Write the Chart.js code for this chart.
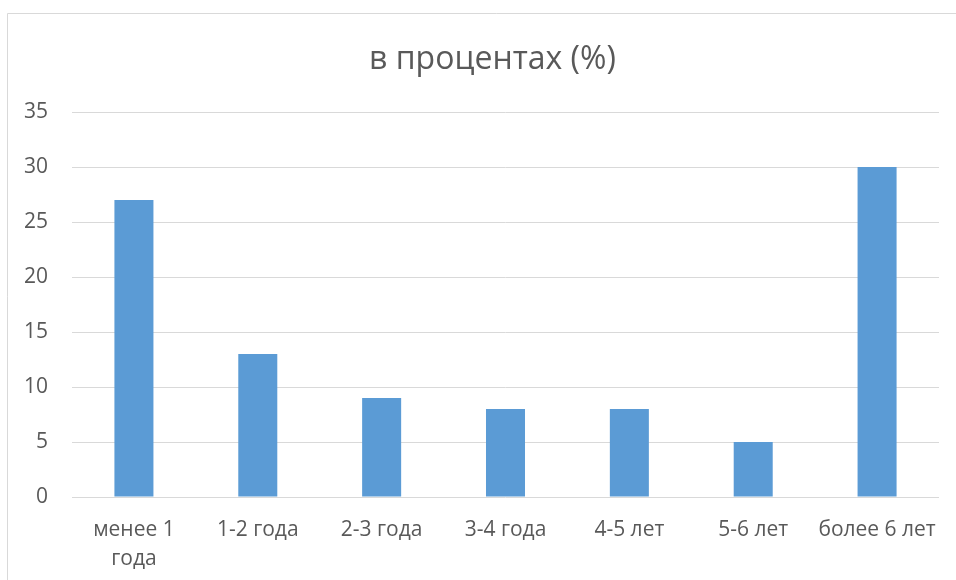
<!DOCTYPE html>
<html>
<head>
<meta charset="utf-8">
<script src="https://cdn.jsdelivr.net/npm/chart.js@4"></script>
<style>
  html, body { margin: 0; padding: 0; background: #fff; overflow: hidden; }
  #wrap { position: relative; width: 956px; height: 580px; overflow: hidden; }
  #c { position: absolute; left: 0; top: 0; }
</style>
</head>
<body>
<div id="wrap"><canvas id="c" width="985" height="580"></canvas></div>
<script>
// Share of respondents by length of service, in percent
const categories = [["менее 1", "года"], "1-2 года", "2-3 года", "3-4 года", "4-5 лет", "5-6 лет", "более 6 лет"];
const percentValues = [27, 13, 9, 8, 8, 5, 30];
const yTicks = [0, 5, 10, 15, 20, 25, 30, 35];
const chartTitle = "в процентах (%)";

const textColor = "#595959";
const gridColor = "#d9d9d9";
const barColor = "#5b9bd5";
const fontFamily = "'Open Sans', 'Noto Sans', sans-serif";

// Thin frame along the top and left edges of the chart box
const framePlugin = {
  id: "frame",
  beforeDraw(chart) {
    const ctx = chart.ctx;
    ctx.save();
    ctx.fillStyle = "#ffffff";
    ctx.fillRect(0, 0, chart.width, chart.height);
    ctx.strokeStyle = gridColor;
    ctx.lineWidth = 1;
    ctx.beginPath();
    ctx.moveTo(7.5, chart.height);
    ctx.lineTo(7.5, 13.5);
    ctx.lineTo(chart.width, 13.5);
    ctx.stroke();
    ctx.restore();
  }
};

new Chart(document.getElementById("c"), {
  type: "bar",
  data: {
    labels: categories,
    datasets: [{
      data: percentValues,
      backgroundColor: barColor,
      borderWidth: 0,
      categoryPercentage: 1,
      barPercentage: 0.315
    }]
  },
  options: {
    responsive: false,
    animation: false,
    layout: { padding: { left: 0, right: 0, top: 0, bottom: 0 } },
    plugins: {
      legend: { display: false },
      tooltip: { enabled: false },
      title: {
        display: true,
        text: chartTitle,
        color: textColor,
        font: { family: fontFamily, size: 32, weight: "normal", lineHeight: 1.2 },
        padding: { top: 41, bottom: 32.6 }
      }
    },
    scales: {
      x: {
        grid: { display: false, drawTicks: false },
        border: { display: false },
        ticks: {
          color: textColor,
          font: { family: fontFamily, size: 21, lineHeight: 1.4 },
          padding: 18,
          maxRotation: 0,
          autoSkip: false
        },
        afterFit(scale) { scale.height = 83; }
      },
      y: {
        min: 0,
        max: 35,
        afterBuildTicks(scale) { scale.ticks = yTicks.map(v => ({ value: v })); },
        grid: { color: gridColor, lineWidth: 1, drawTicks: false },
        border: { display: false },
        ticks: {
          color: textColor,
          font: { family: fontFamily, size: 21 },
          padding: 24
        },
        afterFit(scale) { scale.width = 72; }
      },
      // empty right margin of the chart box
      yRight: {
        position: "right",
        min: 0,
        max: 35,
        grid: { display: false, drawTicks: false },
        border: { display: false },
        ticks: { display: false },
        afterFit(scale) { scale.width = 46; }
      }
    }
  },
  plugins: [framePlugin]
});
</script>
</body>
</html>
